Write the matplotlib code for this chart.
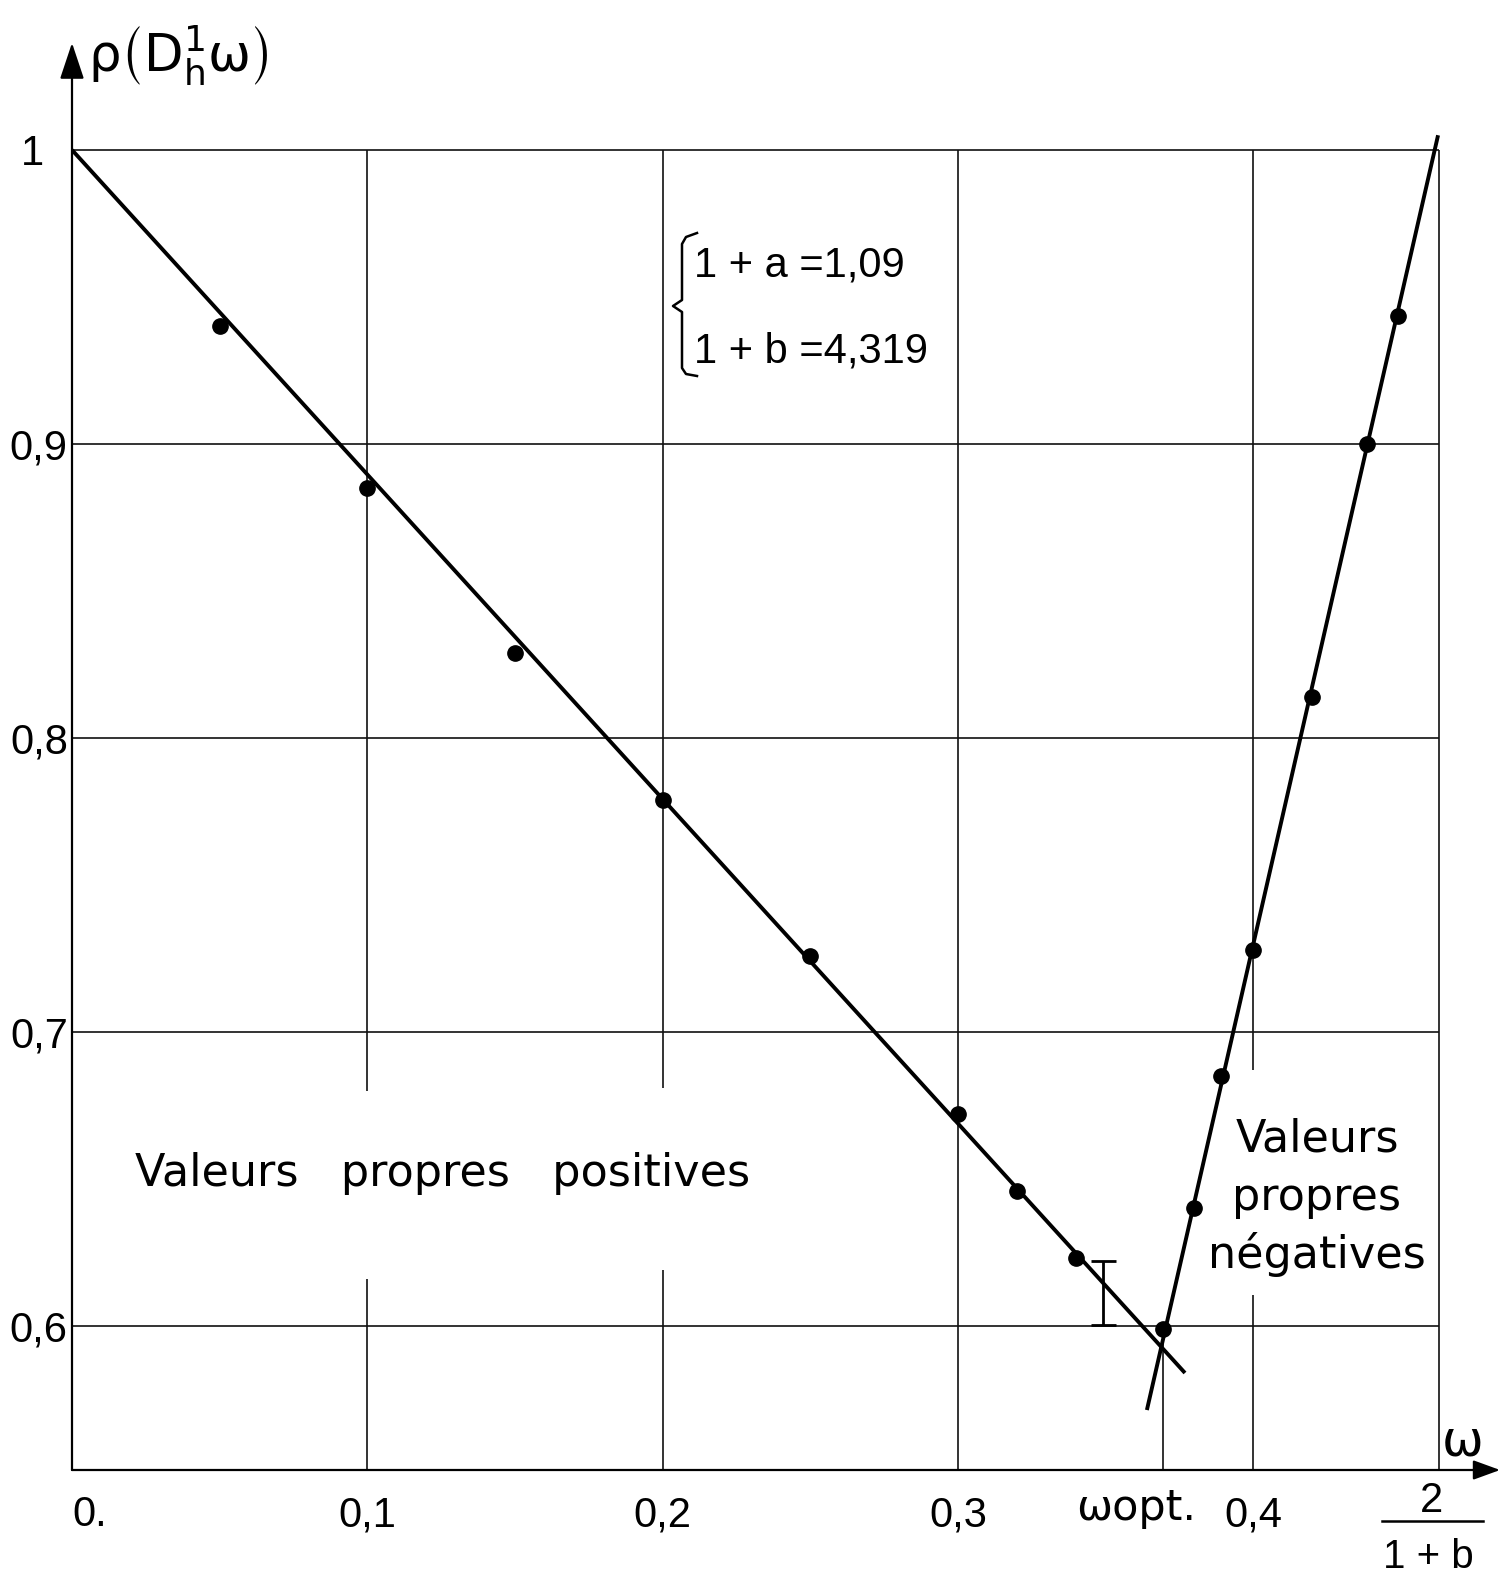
import matplotlib
matplotlib.use("Agg")
import matplotlib.pyplot as plt
from matplotlib.lines import Line2D

# measured points, positive eigenvalues branch
omega_pos = [0.05, 0.10, 0.15, 0.20, 0.25, 0.30, 0.32, 0.34]
rho_pos = [0.940, 0.885, 0.829, 0.779, 0.726, 0.672, 0.646, 0.623]
# optimum point
omega_opt = 0.3695
rho_opt = 0.599
# measured points, negative eigenvalues branch
omega_neg = [0.380, 0.389, 0.400, 0.420, 0.4385, 0.449]
rho_neg = [0.640, 0.685, 0.728, 0.814, 0.900, 0.9435]
# drawn straight lines
line_pos_x = [0.0, 0.3769]
line_pos_y = [1.0, 0.584]
line_neg_x = [0.364, 0.4626]
line_neg_y = [0.5714, 1.005]
# error bar near the optimum
err_x = 0.349
err_lo = 0.6003
err_hi = 0.622

one_plus_b = 4.319
x_frac = 2 / one_plus_b

x_ticks = [0.0, 0.1, 0.2, 0.3, 0.4]
x_ticklabels = ['0.', '0,1', '0,2', '0,3', '0,4']
y_ticks = [0.6, 0.7, 0.8, 0.9, 1.0]
y_ticklabels = ['0,6', '0,7', '0,8', '0,9', '1  ']

W, H = 1509, 1577
Y0 = 0.551


def fpos(px, py):
    return px / W, 1 - py / H


plt.rcParams['font.family'] = ['DejaVu Sans']
plt.rcParams['mathtext.fontset'] = 'dejavusans'
plt.rcParams['mathtext.default'] = 'regular'
NUMFONT = ['Liberation Sans', 'DejaVu Sans']

fig = plt.figure(figsize=(W / 100, H / 100), dpi=100)
fig.patch.set_facecolor('white')
ax = fig.add_axes([72 / W, (H - 1470) / H, 2953 * 0.485 / W, 2940 * 0.489 / H])
ax.set_xlim(0, 0.485)
ax.set_ylim(Y0, 1.04)
for s in ax.spines.values():
    s.set_visible(False)

# grid
gcol = '#111111'
glw = 1.2
ax.hlines(y_ticks, 0, x_frac, color=gcol, lw=glw, zorder=1)
gaps = {0.1: (0.616, 0.680), 0.2: (0.619, 0.681), 0.4: (0.6105, 0.687)}
for gx in [0.1, 0.2, 0.3, 0.4, x_frac]:
    if gx in gaps:
        lo, hi = gaps[gx]
        ax.vlines(gx, Y0, lo, color=gcol, lw=glw, zorder=1)
        ax.vlines(gx, hi, 1.0, color=gcol, lw=glw, zorder=1)
    else:
        ax.vlines(gx, Y0, 1.0, color=gcol, lw=glw, zorder=1)
ax.vlines(omega_opt, Y0, rho_opt, color=gcol, lw=glw, zorder=1)

# axes with arrows
ax.annotate('', xy=(0, 1.0364), xytext=(0, Y0),
            arrowprops=dict(arrowstyle='-|>,head_length=0.75,head_width=0.25',
                            mutation_scale=30, lw=1.6, color='black',
                            shrinkA=0, shrinkB=0), annotation_clip=False)
ax.annotate('', xy=(0.4836, Y0), xytext=(0, Y0),
            arrowprops=dict(arrowstyle='-|>,head_length=0.55,head_width=0.2',
                            mutation_scale=30, lw=1.6, color='black',
                            shrinkA=0, shrinkB=0), annotation_clip=False)

# lines and points
ax.plot(line_pos_x, line_pos_y, color='black', lw=2.8, solid_capstyle='butt', zorder=3)
ax.plot(line_neg_x, line_neg_y, color='black', lw=2.8, solid_capstyle='butt', zorder=3)
ax.plot(omega_pos, rho_pos, 'o', color='black', ms=11, zorder=4)
ax.plot([omega_opt], [rho_opt], 'o', color='black', ms=11, zorder=4)
ax.plot(omega_neg, rho_neg, 'o', color='black', ms=11, zorder=4)
ax.errorbar([err_x], [(err_lo + err_hi) / 2], yerr=[(err_hi - err_lo) / 2],
            fmt='none', ecolor='black', elinewidth=2, capsize=9, capthick=2, zorder=3)

# ticks
ax.set_xticks(x_ticks, x_ticklabels)
ax.set_yticks(y_ticks, y_ticklabels)
ax.tick_params(axis='both', length=0, labelsize=30)
ax.tick_params(axis='x', pad=18)
ax.tick_params(axis='y', pad=3)
for lab in ax.get_xticklabels() + ax.get_yticklabels():
    lab.set_family(NUMFONT)
ax.get_xticklabels()[0].set_ha('left')

# axis labels and annotations
fig.text(*fpos(88, 72), r'$\rho\left(D^{1}_{h}\omega\right)$', fontsize=37,
         ha='left', va='baseline')
fig.text(*fpos(1463, 1455), 'ω', fontsize=36, ha='center', va='baseline')
fig.text(*fpos(1076, 1520), 'ωopt.', fontsize=31, ha='left', va='baseline')
fig.text(*fpos(1431, 1512), '2', fontsize=30, ha='center', va='baseline', family=NUMFONT)
fig.add_artist(Line2D([1382 / W, 1483 / W], [1 - 1521 / H, 1 - 1521 / H],
                      color='black', lw=1.8))
fig.text(*fpos(1428, 1568), '1 + b', fontsize=29, ha='center', va='baseline', family=NUMFONT)

fig.text(*fpos(135, 1186), 'Valeurs   propres   positives', fontsize=32,
         ha='left', va='baseline')
for txt, by in [('Valeurs', 1152), ('propres', 1210), ('négatives', 1268)]:
    fig.text(*fpos(1317, by), txt, fontsize=32, ha='center', va='baseline')

# parameter box with brace
fig.text(*fpos(694, 277), '1 + a =1,09', fontsize=30, ha='left', va='baseline', family=NUMFONT)
fig.text(*fpos(694, 363), '1 + b =4,319', fontsize=30, ha='left', va='baseline', family=NUMFONT)
bx = [697, 686, 682, 682, 673, 682, 682, 686, 697]
by = [233, 237, 244, 300, 306, 312, 368, 374, 376]
fig.add_artist(Line2D([v / W for v in bx], [1 - v / H for v in by],
                      color='black', lw=1.8, solid_joinstyle='round'))

fig.savefig('out.png', dpi=100, facecolor='white')
